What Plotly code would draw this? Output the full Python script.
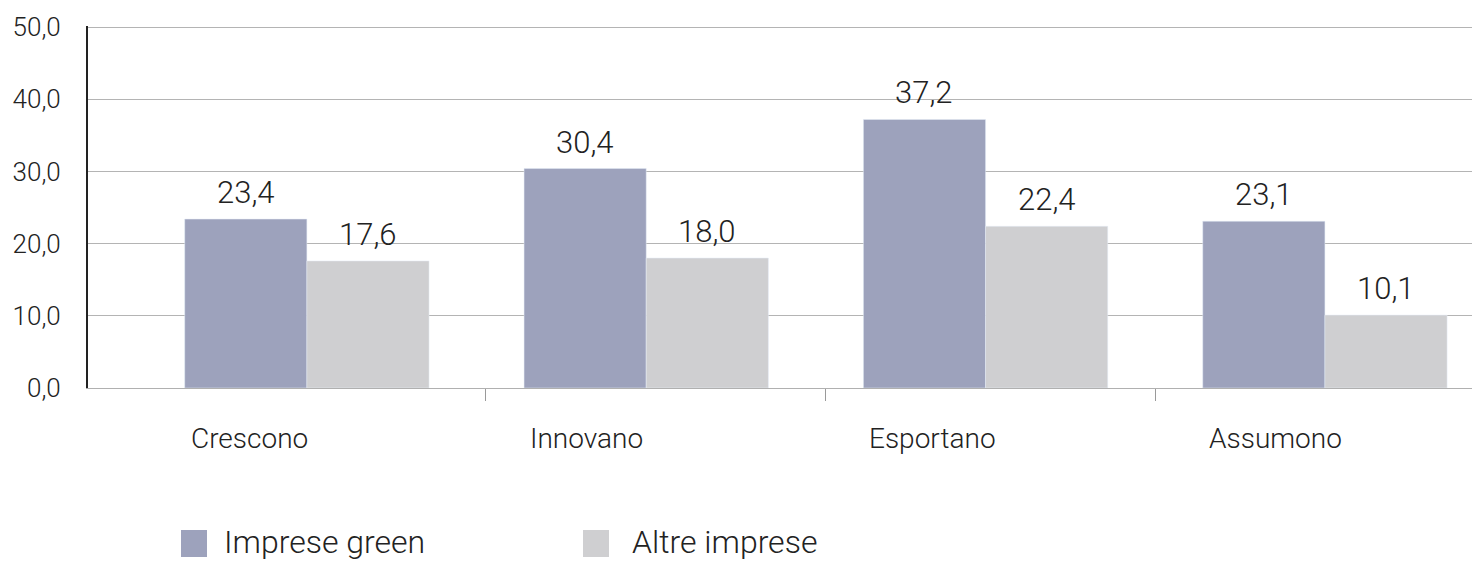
import plotly.graph_objects as go

categories = ["Crescono", "Innovano", "Esportano", "Assumono"]
green = [23.4, 30.4, 37.2, 23.1]
altre = [17.6, 18.0, 22.4, 10.1]
series_names = ["Imprese green", "Altre imprese"]
y_ticks = [0, 10, 20, 30, 40, 50]

COL_GREEN = "#9da2bc"
COL_ALTRE = "#cfcfd1"
TXT = "#222222"
FONT = "Roboto"

OFF = 8  # page body margin
W, H = 1480 - OFF, 562 - OFF
ML, MR, MT, MB = 88 - OFF, 0, 26 - OFF, 562 - 388
PW = W - ML - MR
PH = H - MT - MB

def px_x(px):
    return (px - OFF - ML) / PW

def px_y(py):
    return (H - MB - (py - OFF)) / PH

BARGAP = 0.28
bar_w = (1 - BARGAP) / 2

xs = list(range(len(categories)))
fig = go.Figure()
for vals, name, col in [(green, series_names[0], COL_GREEN), (altre, series_names[1], COL_ALTRE)]:
    fig.add_trace(go.Bar(x=xs, y=vals, name=name, marker_color=col, showlegend=False))

annotations = []
lab_font = dict(size=31, color=TXT, family=FONT, weight=300)
for k, vals in enumerate([green, altre]):
    for i, v in enumerate(vals):
        annotations.append(dict(x=i + (k - 0.5) * bar_w, y=v, xref="x", yref="y",
                                text=f"{v:.1f}".replace(".", ","), showarrow=False,
                                xanchor="center", yanchor="bottom", yshift=6,
                                font=lab_font))

for i, c in enumerate(categories):
    annotations.append(dict(x=i - bar_w + 0.012, y=px_y(438), xref="x", yref="paper",
                            text=c, showarrow=False, xanchor="left", yanchor="middle",
                            font=dict(size=28, color=TXT, family=FONT, weight=300)))

shapes = []
legend_items = [(181, 222, COL_GREEN, series_names[0]), (583, 630, COL_ALTRE, series_names[1])]
for sx, tx, col, name in legend_items:
    shapes.append(dict(type="rect", xref="paper", yref="paper",
                       x0=px_x(sx), x1=px_x(sx + 26), y0=px_y(557), y1=px_y(530),
                       fillcolor=col, line=dict(width=0)))
    annotations.append(dict(x=px_x(tx), y=px_y(542), xref="paper", yref="paper",
                            text=name, showarrow=False, xanchor="left", yanchor="middle",
                            font=dict(size=32, color=TXT, family=FONT, weight=300)))

fig.update_layout(
    width=W, height=H,
    margin=dict(l=ML, r=MR, t=MT, b=MB, pad=0),
    paper_bgcolor="white", plot_bgcolor="white",
    barmode="group", bargap=BARGAP, bargroupgap=0,
    separators=",.",
    showlegend=False,
    annotations=annotations, shapes=shapes,
    font=dict(family=FONT, color=TXT),
    xaxis=dict(range=[-0.645, 3.457], tickvals=[0.525, 1.527, 2.5], showticklabels=False,
               ticks="outside", ticklen=12, tickcolor="#9a9a9a", tickwidth=1,
               showgrid=False, zeroline=False, showline=True, linecolor="#b0b0b0", linewidth=1),
    yaxis=dict(range=[0, 50.15], tickvals=y_ticks, tickformat=".1f",
               tickfont=dict(size=26, color=TXT, family=FONT, weight=300),
               ticklabelstandoff=20,
               showgrid=True, gridcolor="#b4b4b4", gridwidth=1,
               zeroline=False, showline=True, linecolor="#222222", linewidth=2,
               ticks=""),
)

fig.write_html("out.html")
